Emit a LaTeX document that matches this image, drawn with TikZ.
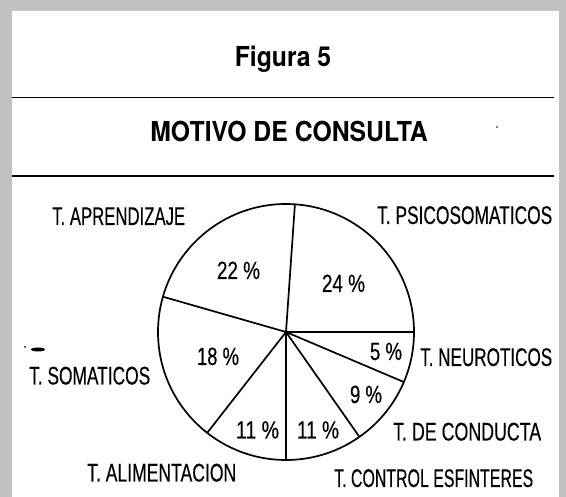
\documentclass[tikz,border=0pt]{standalone}
\usepackage{fontspec}
\setmainfont{Liberation Sans}
\newfontfamily\labfont[FakeBold=0.35]{Liberation Sans}
\newfontfamily\titfont[FakeStretch=0.9]{TeX Gyre Heros}
\definecolor{bggrey}{RGB}{196,193,194}
\newcommand\wlab[2]{\resizebox{#1pt}{\height}{#2}}
\begin{document}
\begin{tikzpicture}[x=1pt,y=-1pt,line join=round,
  lab/.style={font=\labfont\fontsize{25.5}{27}\selectfont,inner sep=0pt,anchor=base west},
  pct/.style={font=\labfont\fontsize{25}{27}\selectfont,inner sep=0pt,anchor=base},
  tit/.style={font=\titfont\bfseries\fontsize{27.5}{30}\selectfont,inner sep=0pt,anchor=base},
  rule/.style={line width=1.8pt},
  pieline/.style={line width=1.7pt}]
\fill[bggrey] (0,0) rectangle (566,497);
\fill[white] (12,11) rectangle (559,497);
\useasboundingbox (0,0) rectangle (566,497);
% titles
\node[tit] (fig) at (283,67) {Figura 5};
\coordinate (r1a) at (12,97.5); \coordinate (r1b) at (554,97.5);
\draw[rule] (r1a) -- (r1b);
\node[tit] (mot) at (289,142) {MOTIVO DE CONSULTA};
\coordinate (r2a) at (12,176); \coordinate (r2b) at (554,176);
\draw[rule] (r2a) -- (r2b);
% pie
\coordinate (ctr) at (286,332);
\draw[pieline] (ctr) circle[radius=128pt];
\foreach \a/\n in {0/a,86/b,164/c,232/d,270/e,305/f,337/g}
  \coordinate (p\n) at ([shift={(\a:128pt)}]ctr);
\foreach \n in {a,b,c,d,e,f,g}
  \draw[pieline] (ctr) -- (p\n);
\fill (ctr) circle[radius=2pt];
% percentages
\node[pct] (v22) at (238.5,279) {\wlab{43}{22 \%}};
\node[pct] (v24) at (343.5,292) {\wlab{43}{24 \%}};
\node[pct] (v18) at (218,365) {\wlab{42}{18 \%}};
\node[pct] (v5) at (386,360) {\wlab{32}{5 \%}};
\node[pct] (v9) at (366,403) {\wlab{32}{9 \%}};
\node[pct] (v11a) at (257.5,438.5) {\wlab{43}{11 \%}};
\node[pct] (v11b) at (318,438.5) {\wlab{42}{11 \%}};
% labels
\node[lab] (lapr) at (52,225) {\wlab{133}{T. APRENDIZAJE}};
\node[lab] (lpsi) at (377,224) {\wlab{175}{T. PSICOSOMATICOS}};
\node[lab] (lneu) at (420,366) {\wlab{132}{T. NEUROTICOS}};
\node[lab] (lsom) at (29,384.5) {\wlab{121}{T. SOMATICOS}};
\node[lab] (lcon) at (393,440.5) {\wlab{148}{T. DE CONDUCTA}};
\node[lab] (lali) at (87,481.5) {\wlab{149}{T. ALIMENTACION}};
\node[lab] (lesf) at (334,487) {\wlab{199}{T. CONTROL ESFINTERES}};
% specks in the scan
\fill (38,349.5) ellipse[x radius=7pt,y radius=2pt];
\fill (25,347) circle[radius=1pt];
\fill (497,127) circle[radius=0.8pt];
\end{tikzpicture}
\end{document}
